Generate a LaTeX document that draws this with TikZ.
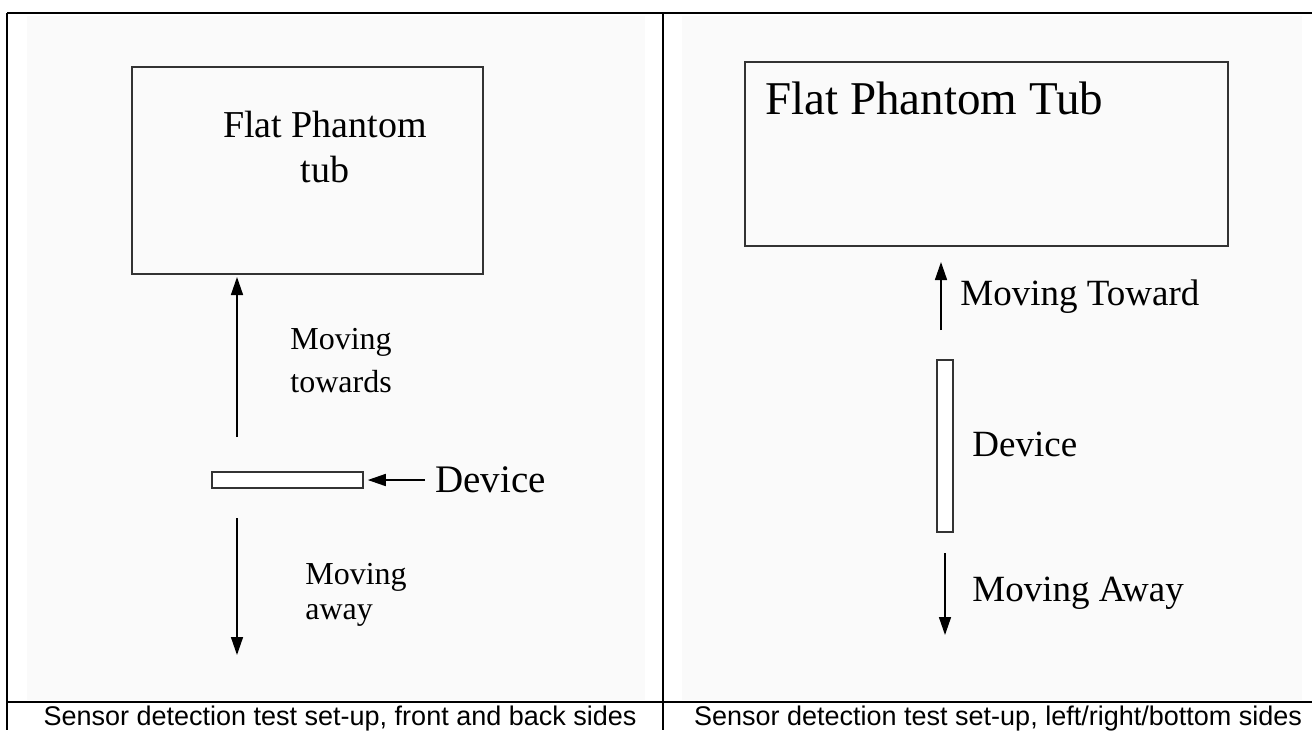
\documentclass[tikz,border=0pt]{standalone}
\usepackage{fontspec}
\setmainfont{Liberation Serif}
\newfontfamily\captionfont{Liberation Sans}
\usetikzlibrary{arrows.meta,positioning}

\begin{document}
\begin{tikzpicture}[
    x=0.5pt, y=-0.5pt,
    frame/.style={line width=1pt},
    panel/.style={fill=black!2, draw=none},
    tubbox/.style={
        draw=black!80,
        line width=0.75pt,
        inner sep=0pt
    },
    devbox/.style={
        draw=black!80,
        line width=0.75pt,
        fill=white,
        inner sep=0pt
    },
    label/.style={
        inner sep=0pt,
        align=left,
        anchor=west
    },
    arrow/.style={-{Triangle[length=9pt,width=6pt]}, line width=0.75pt},
    caption/.style={font=\captionfont\fontsize{13.5}{16}\selectfont, inner sep=0pt}
]
\useasboundingbox (0,0) rectangle (1312,730);

% light panel backgrounds
\fill[panel] (27,16) rectangle (645,700);
\fill[panel] (682,16) rectangle (1302,700);

% table lines
\draw[frame] (7,13) -- (1312,13);
\draw[frame] (7,13) -- (7,730);
\draw[frame] (663,13) -- (663,730);
\draw[frame] (7,702) -- (1312,702);

% left panel: front and back sides
\node[tubbox, minimum width=175.5pt, minimum height=103.5pt] (tubA) at (307.5,170.5) {};
\node[inner sep=0pt, align=center, font=\fontsize{19}{22.5}\selectfont] (tubAtext) at (325,147) {Flat Phantom\\tub};
\node[devbox, minimum width=75.5pt, minimum height=8pt] (devA) at (287.5,480) {};
\coordinate (upA0) at (237,437);
\coordinate (upA1) at (237,277);
\coordinate (dnA0) at (237,518);
\coordinate (dnA1) at (237,655);
\coordinate (ptrA) at (425,480);
\draw[arrow] (upA0) -- (upA1);
\draw[arrow] (dnA0) -- (dnA1);
\draw[arrow, shorten >=2pt] (ptrA) -- (devA.east);
\node[label, font=\fontsize{16}{21.5}\selectfont] (towardA) at (290,361) {Moving\\towards};
\node[label, font=\fontsize{16}{17.5}\selectfont] (awayA) at (305,595) {Moving\\away};
\node[label, font=\fontsize{19.5}{23}\selectfont, right=5pt of ptrA] (devAtext) {Device};

% right panel: left/right/bottom sides
\node[tubbox, minimum width=241.5pt, minimum height=92pt] (tubB) at (986.5,154) {};
\node[label, font=\fontsize{23.5}{28}\selectfont] (tubBtext) at (765,98) {Flat Phantom Tub};
\node[devbox, minimum width=8pt, minimum height=86pt] (devB) at (945,446) {};
\coordinate (upB0) at (941,330);
\coordinate (upB1) at (941,262);
\coordinate (dnB0) at (945,553);
\coordinate (dnB1) at (945,635);
\draw[arrow] (upB0) -- (upB1);
\draw[arrow] (dnB0) -- (dnB1);
\node[label, font=\fontsize{18.5}{22}\selectfont] (towardB) at (960,297) {Moving Toward};
\node[label, font=\fontsize{18.5}{22}\selectfont] (devBtext) at (972,444) {Device};
\node[label, font=\fontsize{18.5}{22}\selectfont] (awayB) at (972,593) {Moving Away};

% captions
\node[caption] (capA) at (340,719) {Sensor detection test set-up, front and back sides};
\node[caption] (capB) at (998,719) {Sensor detection test set-up, left/right/bottom sides};
\end{tikzpicture}
\end{document}
